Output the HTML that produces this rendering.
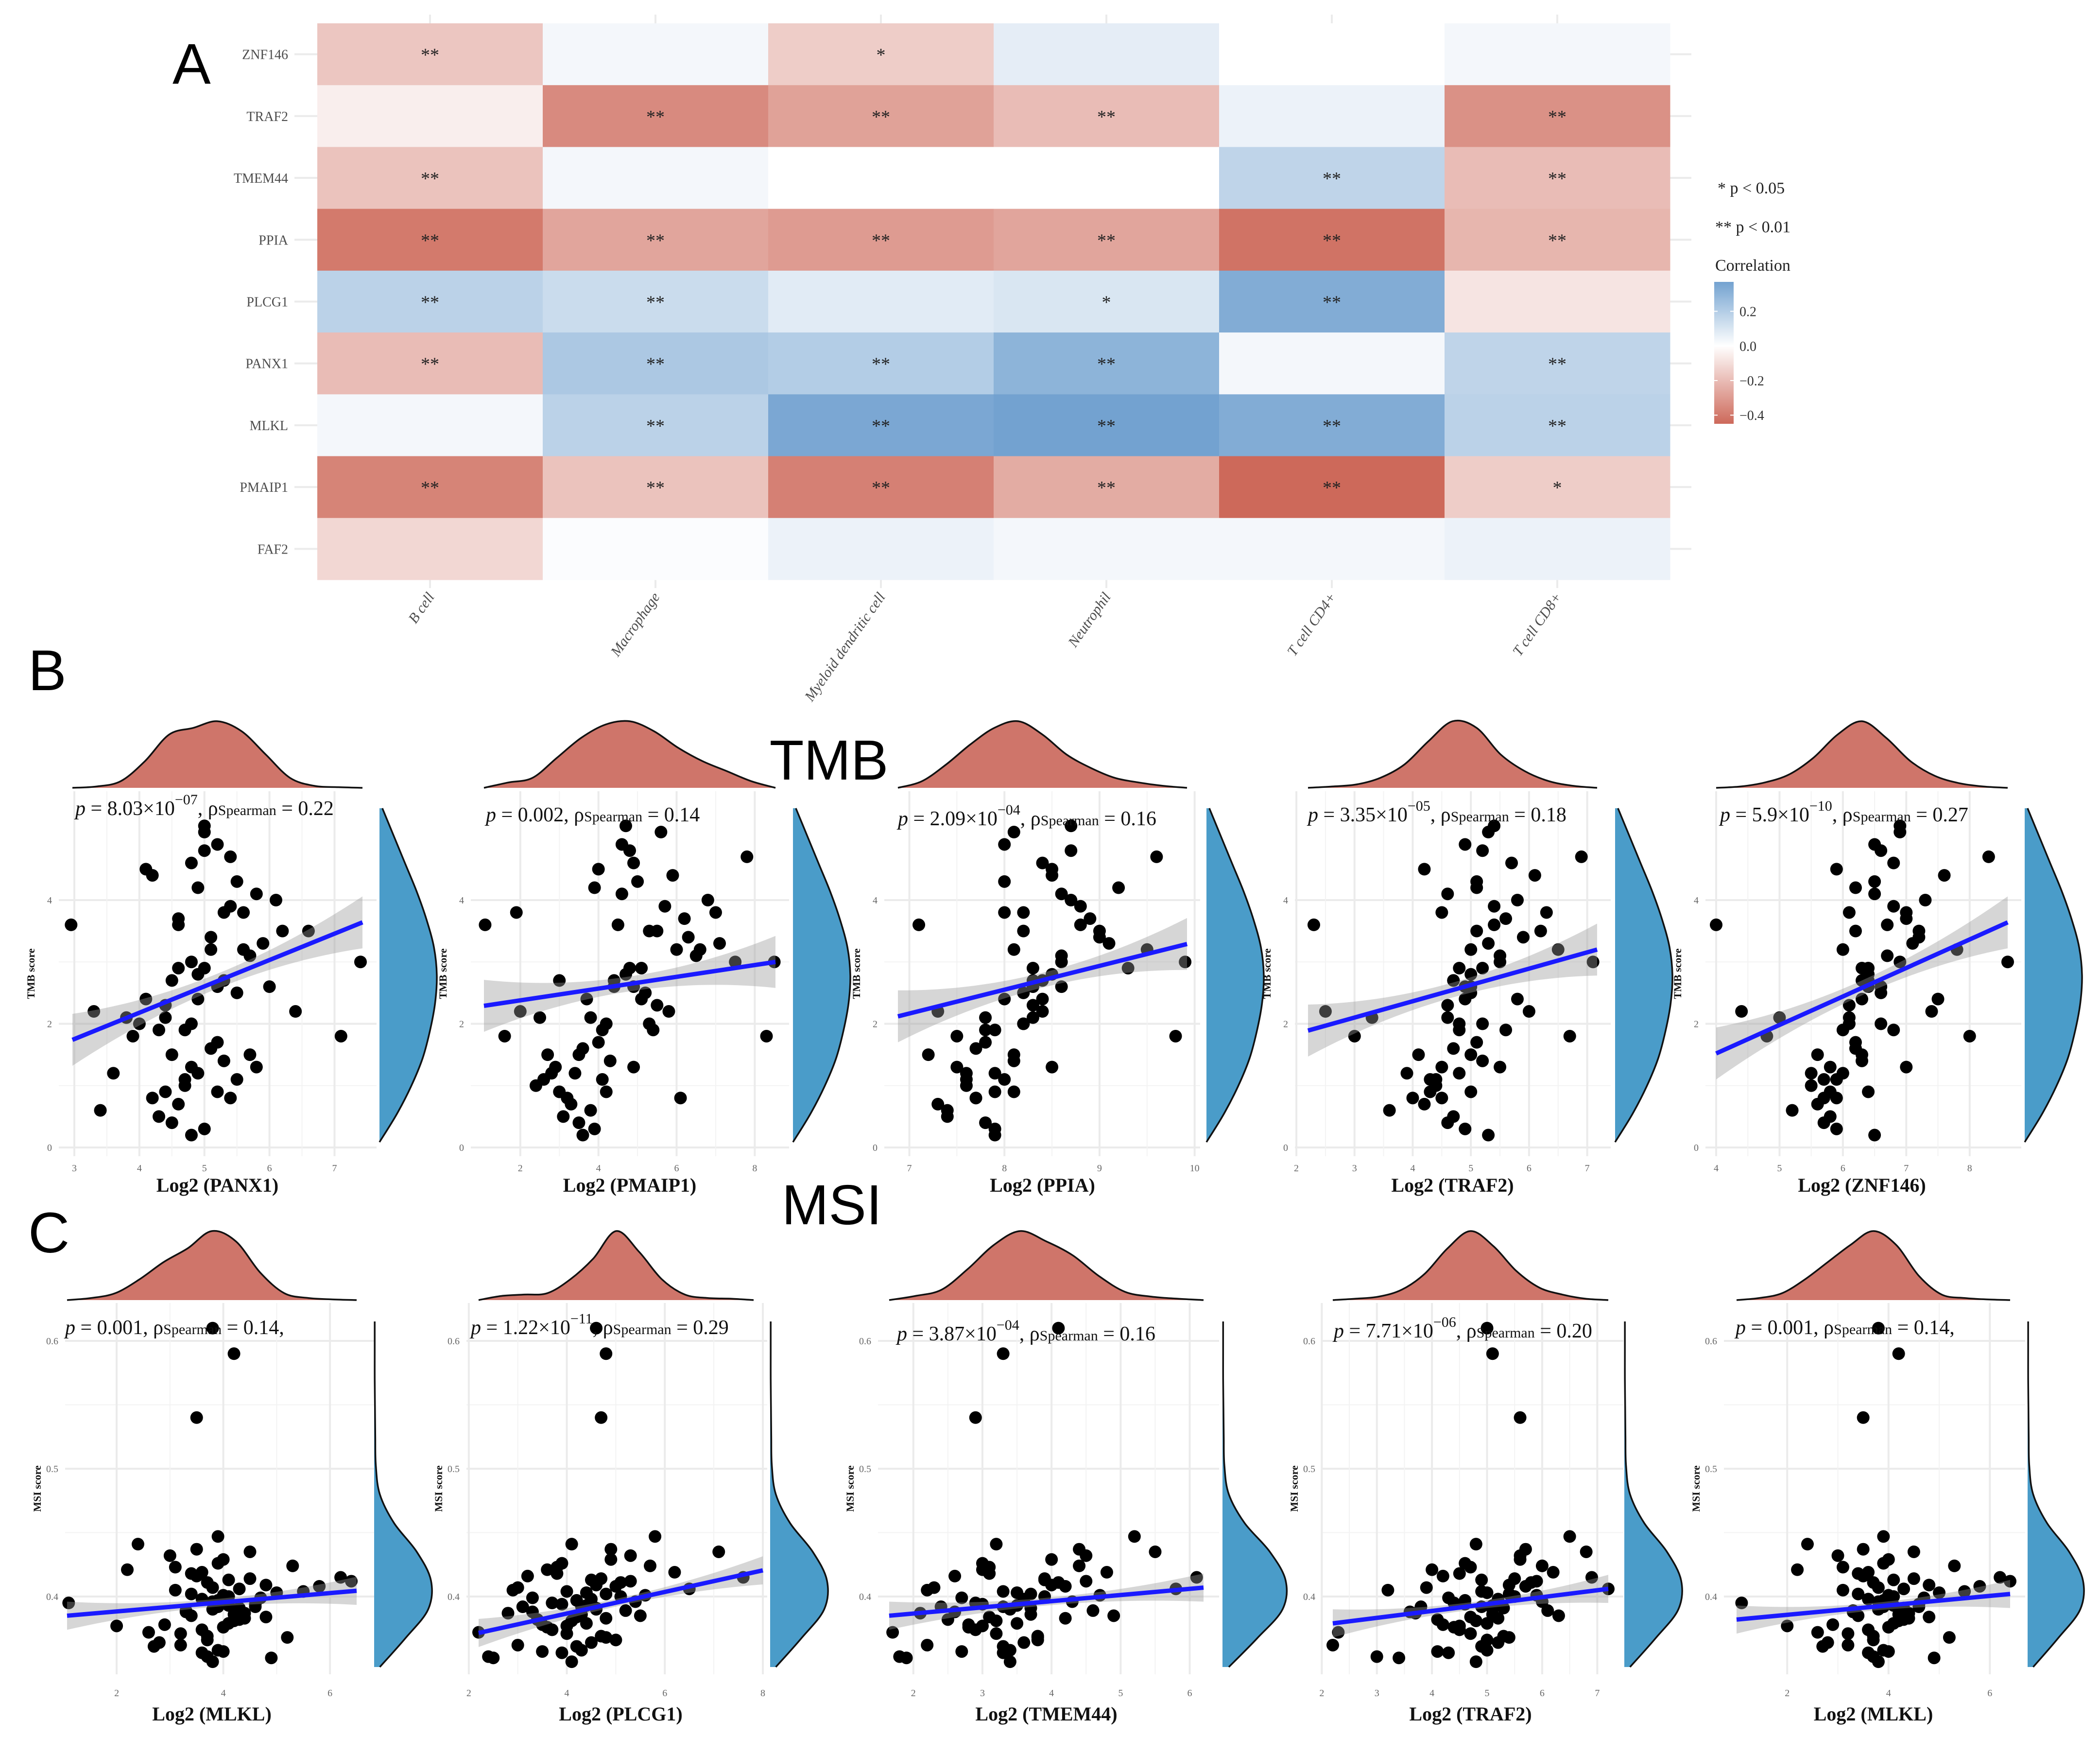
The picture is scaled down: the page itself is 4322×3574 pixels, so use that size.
<!DOCTYPE html>
<html><head><meta charset="utf-8"><style>
html,body{margin:0;padding:0;background:#fff}
svg{display:block}
</style></head><body>
<svg id="fig" xmlns="http://www.w3.org/2000/svg" width="4322" height="3574" viewBox="0 0 4322 3574" font-family="Liberation Serif, serif">
<rect x="0" y="0" width="4322" height="3574" fill="#fff"/>
<text x="355" y="172" font-family="Liberation Sans, sans-serif" font-size="118" fill="#000">A</text>
<text x="58" y="1420" font-family="Liberation Sans, sans-serif" font-size="118" fill="#000">B</text>
<text x="58" y="2577" font-family="Liberation Sans, sans-serif" font-size="118" fill="#000">C</text>
<text x="1706" y="1604" text-anchor="middle" font-family="Liberation Sans, sans-serif" font-size="116" fill="#000">TMB</text>
<text x="1712" y="2519" text-anchor="middle" font-family="Liberation Sans, sans-serif" font-size="116" fill="#000">MSI</text>
<g id="heat"></g>
<g id="legend"></g>
<g id="tmb"></g>
<g id="msi"></g>
</svg>
<script>
// ---------- Heatmap data ----------
const genes = ["ZNF146","TRAF2","TMEM44","PPIA","PLCG1","PANX1","MLKL","PMAIP1","FAF2"];
const cells = ["B cell","Macrophage","Myeloid dendritic cell","Neutrophil","T cell CD4+","T cell CD8+"];
const corrZNF146 = [-0.17,0.03,-0.15,0.07,0.0,0.03];
const corrTRAF2 = [-0.05,-0.35,-0.28,-0.2,0.05,-0.33];
const corrTMEM44 = [-0.18,0.03,0.0,0.0,0.17,-0.2];
const corrPPIA = [-0.4,-0.27,-0.3,-0.27,-0.42,-0.22];
const corrPLCG1 = [0.18,0.14,0.08,0.1,0.33,-0.08];
const corrPANX1 = [-0.2,0.22,0.2,0.3,0.03,0.17];
const corrMLKL = [0.03,0.18,0.35,0.38,0.33,0.18];
const corrPMAIP1 = [-0.37,-0.18,-0.38,-0.25,-0.47,-0.15];
const corrFAF2 = [-0.12,0.01,0.05,0.03,0.03,0.05];
const starsZNF146 = ["**","","*","","",""];
const starsTRAF2 = ["","**","**","**","","**"];
const starsTMEM44 = ["**","","","","**","**"];
const starsPPIA = ["**","**","**","**","**","**"];
const starsPLCG1 = ["**","**","","*","**",""];
const starsPANX1 = ["**","**","**","**","","**"];
const starsMLKL = ["","**","**","**","**","**"];
const starsPMAIP1 = ["**","**","**","**","**","*"];
const starsFAF2 = ["","","","","",""];
const legendTicks = [0.2,0.0,-0.2,-0.4];

// ---------- TMB data (shared TMB score per sample) ----------
const tmbY = [3.6,2.2,1.8,2.1,0.6,1.2,0.8,4.5,3.8,2.9,1.5,4.1,3.2,0.9,2.7,1.1,4.8,3.5,2.4,0.4,1.9,3.9,2.6,1.3,5.1,0.7,3.1,2.0,4.3,1.6,2.8,3.7,0.3,1.4,4.6,2.3,3.3,1.0,2.5,4.0,0.5,1.7,3.0,4.9,2.2,1.2,3.6,0.8,2.9,4.4,1.5,3.4,2.1,0.2,3.8,2.6,1.9,4.2,1.1,2.4,3.2,0.9,5.2,1.8,2.7,3.5,1.3,4.7,2.0,3.0];
const xPANX1 = [2.95,3.3,3.9,3.8,3.4,3.6,4.2,4.1,5.6,4.6,4.5,5.8,5.1,4.4,5.3,4.7,5.0,6.2,4.9,4.5,4.3,5.4,5.2,4.8,5.0,4.6,5.7,4.0,5.5,5.1,4.9,4.6,5.0,5.3,4.8,4.4,5.9,4.7,5.5,6.1,4.3,5.2,4.8,5.2,6.4,4.9,4.6,5.4,5.0,4.2,5.7,5.1,4.4,4.8,5.3,6.0,4.7,4.9,5.5,4.1,5.6,5.2,5.0,7.1,4.5,6.6,5.8,5.4,4.8,7.4];
const xPMAIP1 = [1.1,2.0,1.6,2.5,3.8,2.8,3.2,4.0,1.9,5.1,3.5,4.6,6.0,3.0,4.4,2.6,4.8,5.3,3.7,3.5,4.1,5.7,4.9,2.9,5.6,3.3,6.5,4.2,5.0,3.6,4.7,6.2,3.9,4.3,4.9,5.5,7.1,2.4,5.2,6.8,3.1,4.0,7.5,4.6,5.8,3.4,4.5,6.1,4.8,5.9,2.7,6.3,3.8,3.6,7.0,4.4,5.4,3.9,4.1,5.1,6.6,4.2,4.7,8.3,3.0,5.5,4.9,7.8,5.3,8.5];
const xPPIA = [7.1,7.3,7.5,7.8,7.4,7.6,7.7,8.5,8.0,8.3,7.2,8.6,8.1,7.9,8.4,7.6,8.7,8.2,8.0,7.8,7.9,8.8,8.3,7.5,8.1,7.3,8.6,8.2,8.0,7.7,8.5,8.9,7.9,8.1,8.4,8.3,9.1,7.6,8.2,8.7,7.4,7.8,8.6,8.0,8.4,7.9,8.8,7.7,9.3,8.5,8.1,9.0,8.3,7.9,8.2,8.6,7.8,9.2,8.0,8.4,9.5,8.1,8.7,9.8,8.3,9.0,8.5,9.6,8.2,9.9];
const xTRAF2 = [2.3,2.5,3.0,3.3,3.6,3.9,4.0,4.2,4.5,4.8,4.1,4.6,5.0,4.3,4.7,4.4,5.2,5.1,4.9,4.6,4.8,5.4,5.0,4.5,5.3,4.2,5.5,4.8,5.1,4.7,5.0,5.6,4.9,5.2,5.7,4.6,5.3,4.4,5.0,5.8,4.7,5.1,5.5,4.9,6.0,4.8,5.4,4.5,5.2,6.1,5.0,5.9,4.6,5.3,6.3,4.9,5.6,5.1,4.3,5.8,6.5,5.0,5.4,6.7,4.7,6.2,5.5,6.9,5.2,7.1];
const xZNF146 = [4.0,4.4,4.8,5.0,5.2,5.5,5.7,5.9,6.1,6.3,5.6,6.5,6.0,5.8,6.4,5.9,6.6,6.2,6.3,5.7,6.0,6.8,6.4,5.8,6.9,5.6,6.7,6.1,6.5,6.2,6.4,7.0,5.9,6.3,6.8,6.1,7.1,5.5,6.6,7.3,5.8,6.2,6.9,6.5,7.4,6.0,6.7,5.9,6.4,7.6,6.3,7.2,6.1,6.5,7.0,6.6,6.8,6.2,5.7,7.5,7.8,6.4,6.9,8.0,6.3,7.2,7.0,8.3,6.6,8.6];
const tmbFitStart = [1.74,2.29,2.12,1.89,1.52];
const tmbFitEnd = [3.64,3.0,3.29,3.2,3.64];
const tmbTopDens = [
 [0,0.02,0.1,0.4,0.8,0.9,1.0,0.85,0.5,0.15,0.03,0.01,0],
 [0,0.08,0.15,0.45,0.75,0.95,1.0,0.85,0.6,0.4,0.25,0.1,0],
 [0,0.1,0.35,0.65,0.9,1.0,0.8,0.5,0.3,0.15,0.08,0.03,0],
 [0,0.02,0.05,0.15,0.35,0.7,1.0,0.9,0.5,0.25,0.1,0.03,0],
 [0,0.02,0.08,0.2,0.45,0.8,1.0,0.75,0.4,0.18,0.07,0.02,0]];
const tmbRightDens = [0.0,0.3,0.55,0.75,0.88,0.97,1.0,0.95,0.82,0.65,0.45,0.25,0.05];
const tmbGenes = ["PANX1","PMAIP1","PPIA","TRAF2","ZNF146"];
const tmbPMant = ["8.03×10","0.002","2.09×10","3.35×10","5.9×10"];
const tmbPExp = ["−07","","−04","−05","−10"];
const tmbRho = ["0.22","0.14","0.16","0.18","0.27"];
const tmbXTicks = [[3,4,5,6,7],[2,4,6,8],[7,8,9,10],[2,3,4,5,6,7],[4,5,6,7,8]];
const tmbYTicks = [0,2,4];

// ---------- MSI data ----------
const msiY = [0.61,0.59,0.54,0.372,0.405,0.388,0.421,0.356,0.397,0.413,0.383,0.432,0.366,0.401,0.392,0.378,0.418,0.349,0.386,0.409,0.437,0.395,0.371,0.403,0.382,0.426,0.361,0.398,0.414,0.389,0.352,0.407,0.376,0.441,0.393,0.368,0.411,0.385,0.399,0.423,0.358,0.391,0.404,0.374,0.429,0.387,0.396,0.364,0.416,0.381,0.447,0.394,0.369,0.408,0.379,0.362,0.419,0.384,0.402,0.357,0.412,0.39,0.435,0.377,0.406,0.353,0.424,0.392,0.415,0.4];
const xMLKL = [3.8,4.2,3.5,2.6,3.1,3.3,2.2,3.6,3.9,4.1,4.4,3.0,3.7,4.0,4.6,2.9,3.4,3.8,4.2,4.8,3.5,1.1,3.2,5.0,4.3,3.9,2.7,3.6,4.5,3.3,4.9,3.8,4.0,2.4,4.1,5.2,3.7,3.4,4.7,3.1,3.9,4.3,5.5,3.6,4.0,4.4,3.8,2.8,3.5,4.2,3.9,4.6,3.7,5.8,4.1,3.2,3.6,4.8,3.4,4.0,6.4,3.8,4.5,2.0,4.3,3.7,5.3,3.9,6.2,4.1];
const xPLCG1 = [4.6,4.8,4.7,2.2,2.9,3.3,3.6,3.9,4.2,4.5,4.8,5.3,5.0,5.6,3.1,3.5,3.8,4.1,4.3,4.6,4.9,3.7,4.0,4.4,3.4,3.9,4.2,4.5,4.7,5.2,2.5,3.0,3.6,4.1,4.4,4.8,5.1,5.5,3.3,3.8,4.3,4.6,4.0,3.7,4.9,2.8,5.4,4.5,3.2,4.1,5.8,3.9,4.7,5.0,4.4,3.0,6.2,4.2,4.8,3.5,5.3,4.6,7.1,4.0,6.5,2.4,5.7,4.3,7.6,5.1];
const xTMEM44 = [4.1,3.3,2.9,1.7,2.2,2.6,3.0,3.3,3.6,3.9,4.2,4.5,3.8,4.7,2.4,2.8,3.1,3.4,3.7,4.0,4.4,2.9,3.2,3.5,2.5,3.0,3.3,3.6,3.9,4.6,1.9,2.3,2.8,3.2,3.5,3.8,4.1,4.9,2.7,3.1,3.4,3.7,3.3,2.9,4.0,2.1,4.3,3.6,2.6,3.2,5.2,3.0,3.8,4.2,3.5,2.2,4.8,3.1,3.7,2.7,4.5,3.4,5.5,3.0,5.8,1.8,4.4,3.3,6.1,3.9];
const xTRAF2m = [5.0,5.1,5.6,2.3,3.2,3.6,4.0,4.3,4.6,4.9,5.2,5.6,5.0,5.9,3.8,4.2,4.5,4.8,5.1,5.4,5.7,4.4,4.7,5.0,4.1,4.6,4.9,5.2,5.5,6.1,3.4,3.9,4.4,4.8,5.1,5.4,5.8,6.3,4.3,4.7,5.0,5.3,4.9,4.5,5.6,3.7,6.0,5.2,4.2,4.8,6.5,4.6,5.3,5.7,5.0,2.2,6.2,4.7,5.4,4.1,5.9,5.1,6.8,4.5,7.2,3.0,6.0,4.9,6.9,5.5];
const msiFitStart = [0.385,0.3715,0.385,0.379,0.382];
const msiFitEnd = [0.4045,0.4205,0.407,0.406,0.402];
const msiTopDens = [
 [0,0.03,0.1,0.3,0.55,0.75,1.0,0.85,0.4,0.1,0.03,0.01,0],
 [0,0.06,0.08,0.1,0.3,0.6,1.0,0.7,0.3,0.08,0.03,0.02,0],
 [0,0.06,0.15,0.45,0.8,1.0,0.85,0.65,0.35,0.12,0.05,0.02,0],
 [0,0.02,0.05,0.15,0.38,0.75,1.0,0.78,0.42,0.18,0.08,0.02,0],
 [0,0.03,0.1,0.3,0.55,0.8,1.0,0.8,0.35,0.08,0.03,0.01,0]];
const msiRightDens = [0.1,0.55,0.95,1.0,0.75,0.35,0.1,0.03,0.02,0.015,0.01,0.01,0.01];
const msiGenes = ["MLKL","PLCG1","TMEM44","TRAF2","MLKL"];
const msiPMant = ["0.001","1.22×10","3.87×10","7.71×10","0.001"];
const msiPExp = ["","−11","−04","−06",""];
const msiRho = ["0.14,","0.29","0.16","0.20","0.14,"];
const msiXTicks = [[2,4,6],[2,4,6,8],[2,3,4,5,6],[2,3,4,5,6,7],[2,4,6]];
const msiYTicks = [0.4,0.5,0.6];

const NS = "http://www.w3.org/2000/svg";
function mk(tag, attrs, parent){const e=document.createElementNS(NS,tag);for(const k in attrs)e.setAttribute(k,attrs[k]);parent.appendChild(e);return e;}

// ---------- Heatmap ----------
const heat = document.getElementById('heat');
const HX0=653, HX1=3437, HY0=48, HY1=1193;
const colW=(HX1-HX0)/cells.length, rowH=(HY1-HY0)/genes.length;
const RED=[205,105,90], BLUE=[115,162,208];
function corrColor(v){
  let c,t;
  if(v<0){c=RED;t=Math.min(1,-v/0.45);}else{c=BLUE;t=Math.min(1,v/0.37);}
  const r=Math.round(255+(c[0]-255)*t),g=Math.round(255+(c[1]-255)*t),b=Math.round(255+(c[2]-255)*t);
  return `rgb(${r},${g},${b})`;
}
const corrRows=[corrZNF146,corrTRAF2,corrTMEM44,corrPPIA,corrPLCG1,corrPANX1,corrMLKL,corrPMAIP1,corrFAF2];
const starRows=[starsZNF146,starsTRAF2,starsTMEM44,starsPPIA,starsPLCG1,starsPANX1,starsMLKL,starsPMAIP1,starsFAF2];
genes.forEach((g,i)=>{
  const y=HY0+rowH*(i+0.5);
  const l=mk('line',{x1:606,x2:3481,y1:y,y2:y,stroke:'#ebebeb','stroke-width':4},heat);
  
  
});
cells.forEach((c,j)=>{
  const x=HX0+colW*(j+0.5);
  const l=mk('line',{x1:x,x2:x,y1:30,y2:1210,stroke:'#ebebeb','stroke-width':4},heat);
  
  
});
corrRows.forEach((row,i)=>{
  row.forEach((v,j)=>{
    const r=mk('rect',{x:HX0+colW*j,y:HY0+rowH*i,width:colW+0.5,height:rowH+0.5,fill:corrColor(v)},heat);
    
    
    const s=starRows[i][j];
    if(s){
      const t=mk('text',{x:HX0+colW*(j+0.5),y:HY0+rowH*(i+0.5)+14,'text-anchor':'middle','font-size':38,fill:'#222'},heat);
      t.textContent=s;
      
      
    }
  });
});
genes.forEach((g,i)=>{
  const t=mk('text',{x:593,y:HY0+rowH*(i+0.5)+10,'text-anchor':'end','font-size':28,fill:'#4d4d4d'},heat);
  t.textContent=g;
  
  
});
cells.forEach((c,j)=>{
  const x=HX0+colW*(j+0.5)+10, y=1228;
  const t=mk('text',{x:x,y:y,'text-anchor':'end','font-size':30,'font-style':'italic',fill:'#4d4d4d',transform:`rotate(-55 ${x} ${y})`},heat);
  t.textContent=c;
  
  
});

// ---------- Legend ----------
const leg=document.getElementById('legend');
[["* p < 0.05",3535,398],["** p < 0.01",3530,478],["Correlation",3530,557]].forEach(([s,x,y],k)=>{
  const t=mk('text',{x:x,y:y,'font-size':34,fill:'#222'},leg);
  t.textContent=s;
  
  
});
const defs=mk('defs',{},document.getElementById('fig'));
const grad=mk('linearGradient',{id:'cbar',x1:0,y1:0,x2:0,y2:1},defs);
const CB0=580, CB1=872, CBmax=0.37, CBmin=-0.45;
[CBmax,0.2,0.1,0,-0.1,-0.2,-0.3,CBmin].forEach(v=>{
  mk('stop',{offset:((CBmax-v)/(CBmax-CBmin)).toFixed(3),'stop-color':corrColor(v)},grad);
});
const cb=mk('rect',{x:3528,y:CB0,width:40,height:CB1-CB0,fill:'url(#cbar)'},leg);


legendTicks.forEach(v=>{
  const y=CB0+(CBmax-v)/(CBmax-CBmin)*(CB1-CB0);
  mk('line',{x1:3528,x2:3535,y1:y,y2:y,stroke:'#fff','stroke-width':2},leg);
  mk('line',{x1:3561,x2:3568,y1:y,y2:y,stroke:'#fff','stroke-width':2},leg);
  const t=mk('text',{x:3580,y:y+10,'font-size':28,fill:'#333'},leg);
  t.textContent=(v<0?'−':'')+Math.abs(v).toFixed(1);
  
  
});

// ---------- Scatter panels ----------
function smoothPath(pts){
  let d=`M${pts[0][0]},${pts[0][1]}`;
  for(let i=0;i<pts.length-1;i++){
    const p0=pts[i-1]||pts[i],p1=pts[i],p2=pts[i+1],p3=pts[i+2]||p2;
    const c1=[p1[0]+(p2[0]-p0[0])/6,p1[1]+(p2[1]-p0[1])/6];
    const c2=[p2[0]-(p3[0]-p1[0])/6,p2[1]-(p3[1]-p1[1])/6];
    d+=` C${c1[0]},${c1[1]} ${c2[0]},${c2[1]} ${p2[0]},${p2[1]}`;
  }
  return d;
}
function drawPanel(root,cfg){
  const g=mk('g',{},root);
  
  
  const sx=v=>cfg.L+(v-cfg.xmin)/(cfg.xmax-cfg.xmin)*(cfg.R-cfg.L);
  const sy=v=>cfg.pA+(v-cfg.yA)/(cfg.yB-cfg.yA)*(cfg.pB-cfg.pA);
  cfg.yTicks.forEach((v,k)=>{
    mk('line',{x1:cfg.GL,x2:cfg.GR,y1:sy(v),y2:sy(v),stroke:'#ebebeb','stroke-width':4},g);
    if(k<cfg.yTicks.length-1){const m=(v+cfg.yTicks[k+1])/2;mk('line',{x1:cfg.GL,x2:cfg.GR,y1:sy(m),y2:sy(m),stroke:'#f3f3f3','stroke-width':2},g);}
    const t=mk('text',{x:cfg.GL-14,y:sy(v)+7,'text-anchor':'end','font-size':20,fill:'#666'},g);
    t.textContent=String(v);
    
    
  });
  cfg.xTicks.forEach((v,k)=>{
    mk('line',{x1:sx(v),x2:sx(v),y1:cfg.T,y2:cfg.B,stroke:'#ebebeb','stroke-width':4},g);
    if(k<cfg.xTicks.length-1){const m=(v+cfg.xTicks[k+1])/2;mk('line',{x1:sx(m),x2:sx(m),y1:cfg.T,y2:cfg.B,stroke:'#f3f3f3','stroke-width':2},g);}
    const t=mk('text',{x:sx(v),y:cfg.tickY,'text-anchor':'middle','font-size':20,fill:'#666'},g);
    t.textContent=String(v);
    
    
  });
  const N=30, up=[], dn=[];
  for(let i=0;i<=N;i++){
    const t=i/N, xv=cfg.xmin+t*(cfg.xmax-cfg.xmin), yv=cfg.fit0+t*(cfg.fit1-cfg.fit0);
    const hw=cfg.bandMid+(cfg.bandEnd-cfg.bandMid)*4*(t-0.5)*(t-0.5);
    up.push(`${sx(xv)},${sy(yv+hw)}`);dn.unshift(`${sx(xv)},${sy(yv-hw)}`);
  }
  const n=Math.min(cfg.xs.length,cfg.ys.length);
  for(let i=0;i<n;i++){
    const c=mk('circle',{cx:sx(cfg.xs[i]),cy:sy(cfg.ys[i]),r:13,fill:'#000'},g);
    
    
  }
  const band=mk('polygon',{points:up.concat(dn).join(' '),fill:'#999','fill-opacity':0.4},g);
  
  
  const ln=mk('line',{x1:sx(cfg.xmin),y1:sy(cfg.fit0),x2:sx(cfg.xmax),y2:sy(cfg.fit1),stroke:'#1a1aff','stroke-width':9},g);
  
  
  const td=cfg.topDens, tp=[];
  td.forEach((v,i)=>tp.push([cfg.TDL+i/(td.length-1)*(cfg.TDR-cfg.TDL),cfg.TDB-v*cfg.TDH]));
  const tpath=mk('path',{d:smoothPath(tp)+` L${cfg.TDR},${cfg.TDB} L${cfg.TDL},${cfg.TDB} Z`,fill:'#cf756a',stroke:'none'},g);
  
  
  mk('path',{d:smoothPath(tp),fill:'none',stroke:'#111','stroke-width':3.5},g);
  const rd=cfg.rightDens, rp=[];
  rd.forEach((v,i)=>rp.push([cfg.RDL+v*cfg.RDW,cfg.RDB-i/(rd.length-1)*(cfg.RDB-cfg.RDT)]));
  const rpath=mk('path',{d:smoothPath(rp)+` L${cfg.RDL},${cfg.RDT} L${cfg.RDL},${cfg.RDB} Z`,fill:'#4a9cc9',stroke:'none'},g);
  
  
  mk('path',{d:smoothPath(rp),fill:'none',stroke:'#111','stroke-width':3.5},g);
  const a=mk('text',{x:cfg.annX,y:cfg.annY,'font-size':42,fill:'#111'},g);
  
  
  a.innerHTML=`<tspan font-style="italic">p</tspan> = ${cfg.pm}`+(cfg.pe?`<tspan dy="-22" font-size="30">${cfg.pe}</tspan><tspan dy="22">, ρ</tspan>`:`, ρ`)+`<tspan font-size="30">Spearman</tspan> = ${cfg.rho}`;
  const xt=mk('text',{x:(cfg.L+cfg.R)/2,y:cfg.titleY,'text-anchor':'middle','font-size':40,'font-weight':'bold',fill:'#111'},g);
  xt.textContent=`Log2 (${cfg.gene})`;
  
  
  const yx=cfg.GL-50, yy=(cfg.T+cfg.B)/2;
  const yt=mk('text',{x:yx,y:yy,'text-anchor':'middle','font-size':22,'font-weight':'bold',fill:'#111',transform:`rotate(-90 ${yx} ${yy})`},g);
  yt.textContent=cfg.yTitle;
  
  
}

const tmbRoot=document.getElementById('tmb');
const tmbXs=[xPANX1,xPMAIP1,xPPIA,xTRAF2,xZNF146];
const tmbGeo=[
 {L:149,R:746,xmin:2.97,xmax:7.43,GL:121,GR:775,RDL:781,annX:155,annY:1677},
 {L:996,R:1596,xmin:1.07,xmax:8.53,GL:969,GR:1624,RDL:1632,annX:1000,annY:1690},
 {L:1848,R:2443,xmin:6.88,xmax:9.92,GL:1820,GR:2470,RDL:2483,annX:1848,annY:1698},
 {L:2692,R:3287,xmin:2.2,xmax:7.17,GL:2665,GR:3315,RDL:3324,annX:2692,annY:1690},
 {L:3532,R:4132,xmin:4.0,xmax:8.6,GL:3510,GR:4160,RDL:4167,annX:3540,annY:1690}];
tmbGeo.forEach((geo,i)=>{
  drawPanel(tmbRoot,Object.assign({},geo,{
    name:'tmb-panel-'+tmbGenes[i].toLowerCase(),
    T:1628,B:2379,yA:0,pA:2361,yB:4,pB:1852,
    xTicks:tmbXTicks[i],yTicks:tmbYTicks,tickY:2410,titleY:2452,
    xs:tmbXs[i],ys:tmbY,fit0:tmbFitStart[i],fit1:tmbFitEnd[i],bandMid:0.12,bandEnd:0.42,
    topDens:tmbTopDens[i],TDL:geo.L,TDR:geo.R,TDB:1621,TDH:137,
    rightDens:tmbRightDens,RDW:118,RDT:1663,RDB:2350,
    pm:tmbPMant[i],pe:tmbPExp[i],rho:tmbRho[i],gene:tmbGenes[i],yTitle:'TMB score'}));
});

const msiRoot=document.getElementById('msi');
const msiXs=[xMLKL,xPLCG1,xTMEM44,xTRAF2m,xMLKL];
const msiGeo=[
 {L:138,R:734,xmin:1.07,xmax:6.5,GL:134,GR:770,RDL:770,RDW:117,TDL:138,TDR:734,annX:134,annY:2745},
 {L:985,R:1570,xmin:2.2,xmax:8.0,GL:960,GR:1579,RDL:1585,RDW:117,TDL:985,TDR:1551,annX:969,annY:2745},
 {L:1830,R:2477,xmin:1.65,xmax:6.2,GL:1807,GR:2509,RDL:2516,RDW:130,TDL:1830,TDR:2477,annX:1846,annY:2758},
 {L:2743,R:3310,xmin:2.2,xmax:7.2,GL:2721,GR:3341,RDL:3343,RDW:117,TDL:2743,TDR:3310,annX:2745,annY:2752},
 {L:3574,R:4137,xmin:1.0,xmax:6.4,GL:3548,GR:4168,RDL:4173,RDW:114,TDL:3574,TDR:4137,annX:3572,annY:2745}];
msiGeo.forEach((geo,i)=>{
  drawPanel(msiRoot,Object.assign({},geo,{
    name:'msi-panel-'+(i+1)+'-'+msiGenes[i].toLowerCase(),
    T:2681,B:3445,yA:0.4,pA:3285,yB:0.6,pB:2759,
    xTicks:msiXTicks[i],yTicks:msiYTicks,tickY:3490,titleY:3540,
    xs:msiXs[i],ys:msiY,fit0:msiFitStart[i],fit1:msiFitEnd[i],bandMid:0.003,bandEnd:0.011,
    topDens:msiTopDens[i],TDB:2675,TDH:142,
    rightDens:msiRightDens,RDT:2719,RDB:3430,
    pm:msiPMant[i],pe:msiPExp[i],rho:msiRho[i],gene:msiGenes[i],yTitle:'MSI score'}));
});
</script>
</body></html>
